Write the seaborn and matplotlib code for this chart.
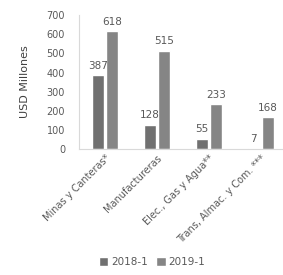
import matplotlib
matplotlib.use('Agg')
import matplotlib.pyplot as plt
import seaborn as sns
import pandas as pd

# sector values, USD millones
sectores = ['Minas y Canteras*', 'Manufactureras', 'Elec., Gas y Agua**', 'Trans, Almac. y Com. ***']
periodos = ['2018-1', '2019-1']
v_2018 = [387, 128, 55, 7]
v_2019 = [618, 515, 233, 168]

df = pd.DataFrame({
    'sector': sectores * 2,
    'periodo': [periodos[0]] * 4 + [periodos[1]] * 4,
    'valor': v_2018 + v_2019,
})

sns.set_style('white')
plt.rcParams['font.family'] = ['Liberation Sans Narrow', 'DejaVu Sans']

fig = plt.figure(figsize=(2.83, 2.75), dpi=100)
ax = fig.add_axes([0.279, 0.458, 0.735, 0.487])

sns.barplot(data=df, x='sector', y='valor', hue='periodo',
            palette=['#707070', '#858585'], width=0.56, gap=0.18,
            saturation=1, ax=ax, legend=True)

for cont in ax.containers:
    ax.bar_label(cont, padding=3, fontsize=7.5, color='#595959')

ax.set_ylim(0, 700)
ax.set_yticks(range(0, 701, 100))
ax.set_xlim(-0.5, 3.5)
ax.set_xlabel('')
ax.set_ylabel('USD Millones', fontsize=8, color='#404040', labelpad=12)
ax.tick_params(axis='y', labelsize=7, colors='#595959', length=0, pad=10)
ax.tick_params(axis='x', labelsize=7, colors='#595959', length=0, pad=3)
plt.setp(ax.get_xticklabels(), rotation=45, ha='right', rotation_mode='anchor')

for s in ['top', 'right']:
    ax.spines[s].set_visible(False)
for s in ['left', 'bottom']:
    ax.spines[s].set_color('#d9d9d9')
    ax.spines[s].set_linewidth(0.8)

leg = ax.legend(loc='center', bbox_to_anchor=(152 / 283, 1 - 262 / 275),
                bbox_transform=fig.transFigure, ncol=2, frameon=False,
                fontsize=7.5, handlelength=0.9, handleheight=0.9,
                handletextpad=0.3, columnspacing=0.8)
for t in leg.get_texts():
    t.set_color('#595959')

fig.savefig('out.png', dpi=100)
